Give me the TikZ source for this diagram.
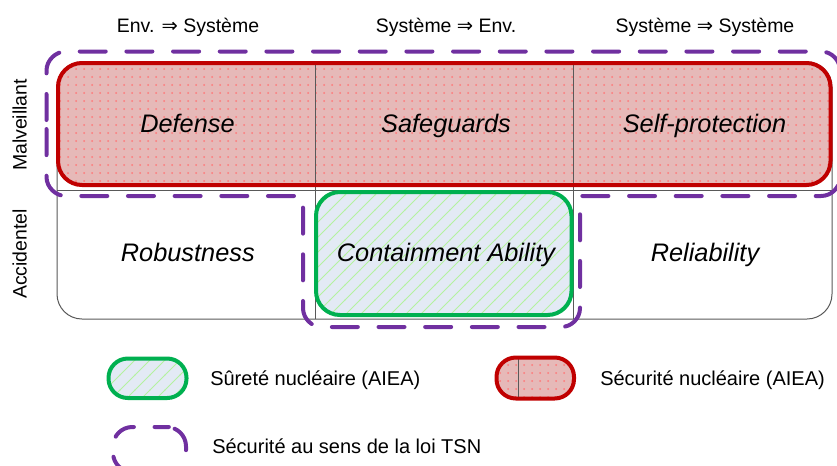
\documentclass[tikz,border=0pt]{standalone}
\usepackage{fontspec}
\setmainfont{Liberation Sans}
\newfontfamily\dejavu{DejaVu Sans}
\usetikzlibrary{patterns}
\definecolor{redline}{HTML}{C00000}
\definecolor{redfill}{HTML}{E6B9B8}
\definecolor{reddot}{HTML}{FF7878}
\definecolor{greenline}{HTML}{00B050}
\definecolor{greenfill}{HTML}{E3EAF5}
\definecolor{greenhatchc}{HTML}{B4F2A0}
\definecolor{purp}{HTML}{7030A0}
\definecolor{gridc}{HTML}{595959}
\pgfdeclarepatternformonly{reddots}{\pgfqpoint{-1pt}{-1pt}}{\pgfqpoint{7pt}{7pt}}{\pgfqpoint{6pt}{6pt}}{%
  \pgfpathcircle{\pgfqpoint{3pt}{3pt}}{0.75pt}\pgfusepath{fill}}
\pgfdeclarepatternformonly{greenhatch}{\pgfqpoint{-1pt}{-1pt}}{\pgfqpoint{12.25pt}{12.25pt}}{\pgfqpoint{11.25pt}{11.25pt}}{%
  \pgfsetlinewidth{0.7pt}\pgfpathmoveto{\pgfqpoint{-0.5pt}{-0.5pt}}\pgfpathlineto{\pgfqpoint{11.75pt}{11.75pt}}\pgfusepath{stroke}}
\tikzset{
  gridline/.style={draw=gridc, line width=0.75pt},
  redbox/.style={draw=redline, line width=3pt, preaction={fill=redfill}, pattern=reddots, pattern color=reddot},
  greenbox/.style={draw=greenline, line width=3pt, preaction={fill=greenfill}, pattern=greenhatch, pattern color=greenhatchc},
  tsn/.style={draw=purp, line width=3pt, line cap=round, line join=round, dash pattern=on 19.5pt off 15.5pt},
  header/.style={font=\fontsize{14.6pt}{17pt}\selectfont, anchor=base, inner sep=0pt},
  celltext/.style={font=\fontsize{19pt}{22pt}\selectfont\itshape, anchor=base, inner sep=0pt},
  rowlabel/.style={font=\fontsize{14.6pt}{17pt}\selectfont, anchor=base, rotate=90, inner sep=0pt},
  legtext/.style={font=\fontsize{15pt}{18pt}\selectfont, anchor=base west, inner sep=0pt},
}
\begin{document}
\begin{tikzpicture}[x=0.75pt, y=-0.75pt]
\useasboundingbox (0,0) rectangle (837,465);
% grid
\draw[gridline, fill=white, rounded corners=18.75pt] (57,62) rectangle (832,319);
% red box fill
\path[redbox, draw=none] [rounded corners=18pt] (58,63) rectangle (830.5,185);
% grid inner lines
\draw[gridline] (315,62) -- (315,319);
\draw[gridline] (573,62) -- (573,319);
\draw[gridline] (57,190) -- (832,190);
% red border
\draw[draw=redline, line width=3pt, rounded corners=18pt] (58,63) rectangle (830.5,185);
% green box
\draw[greenbox, rounded corners=18pt] (316,192) rectangle (571.5,315);
% headers
\node[header] (h1) at (188,32) {Env. {\dejavu ⇒} Système};
\node[header] (h2) at (446,32) {Système {\dejavu ⇒} Env.};
\node[header] (h3) at (705,32) {Système {\dejavu ⇒} Système};
% row labels
\node[rowlabel] (r1) at (26.7,125) {Malveillant};
\node[rowlabel] (r2) at (26.7,254) {Accidentel};
% cells
\node[celltext] (c11) at (187.5,132.7) {Defense};
\node[celltext] (c12) at (446,132.7) {Safeguards};
\node[celltext] (c13) at (704.5,132.7) {Self-protection};
\node[celltext] (c21) at (187.8,261.7) {Robustness};
\node[celltext] (c22) at (446,261.7) {Containment Ability};
\node[celltext] (c23) at (705,261.7) {Reliability};
% purple TSN outline
\draw[tsn] (46.5,120) -- (46.5,70.5) .. controls (46.5,60) and (56,51.5) .. (65.5,51.5)
  -- (821,51.5) .. controls (831.5,51.5) and (840,60) .. (840,70.5)
  -- (840,177) .. controls (840,187.5) and (831.5,196) .. (821,196)
  -- (580,196)
  -- (580,308) .. controls (580,318.5) and (571.5,327) .. (561,327)
  -- (322,327) .. controls (311.5,327) and (303,318.5) .. (303,308)
  -- (303,196)
  -- (65.5,196) .. controls (56,196) and (46.5,187.5) .. (46.5,177)
  -- cycle;
% legend
\draw[greenbox, rounded corners=14.5pt] (108.5,358.5) rectangle (186.5,398);
\node[legtext] (l1) at (210,385.7) {Sûreté nucléaire (AIEA)};
\path[redbox, draw=none, rounded corners=14.5pt] (496.5,357.5) rectangle (574,398.5);
\draw[gridline, line width=0.6pt] (518,358) -- (518,398);
\draw[draw=redline, line width=3pt, rounded corners=14.5pt] (496.5,357.5) rectangle (574,398.5);
\node[legtext] (l2) at (600,385) {Sécurité nucléaire (AIEA)};
\draw[tsn, dash phase=27.25pt, rounded corners=14.5pt] (149.5,427) -- (186,427) -- (186,472) -- (113,472) -- (113,427) -- cycle;
\node[legtext] (l3) at (212,453) {Sécurité au sens de la loi TSN};
\end{tikzpicture}
\end{document}
